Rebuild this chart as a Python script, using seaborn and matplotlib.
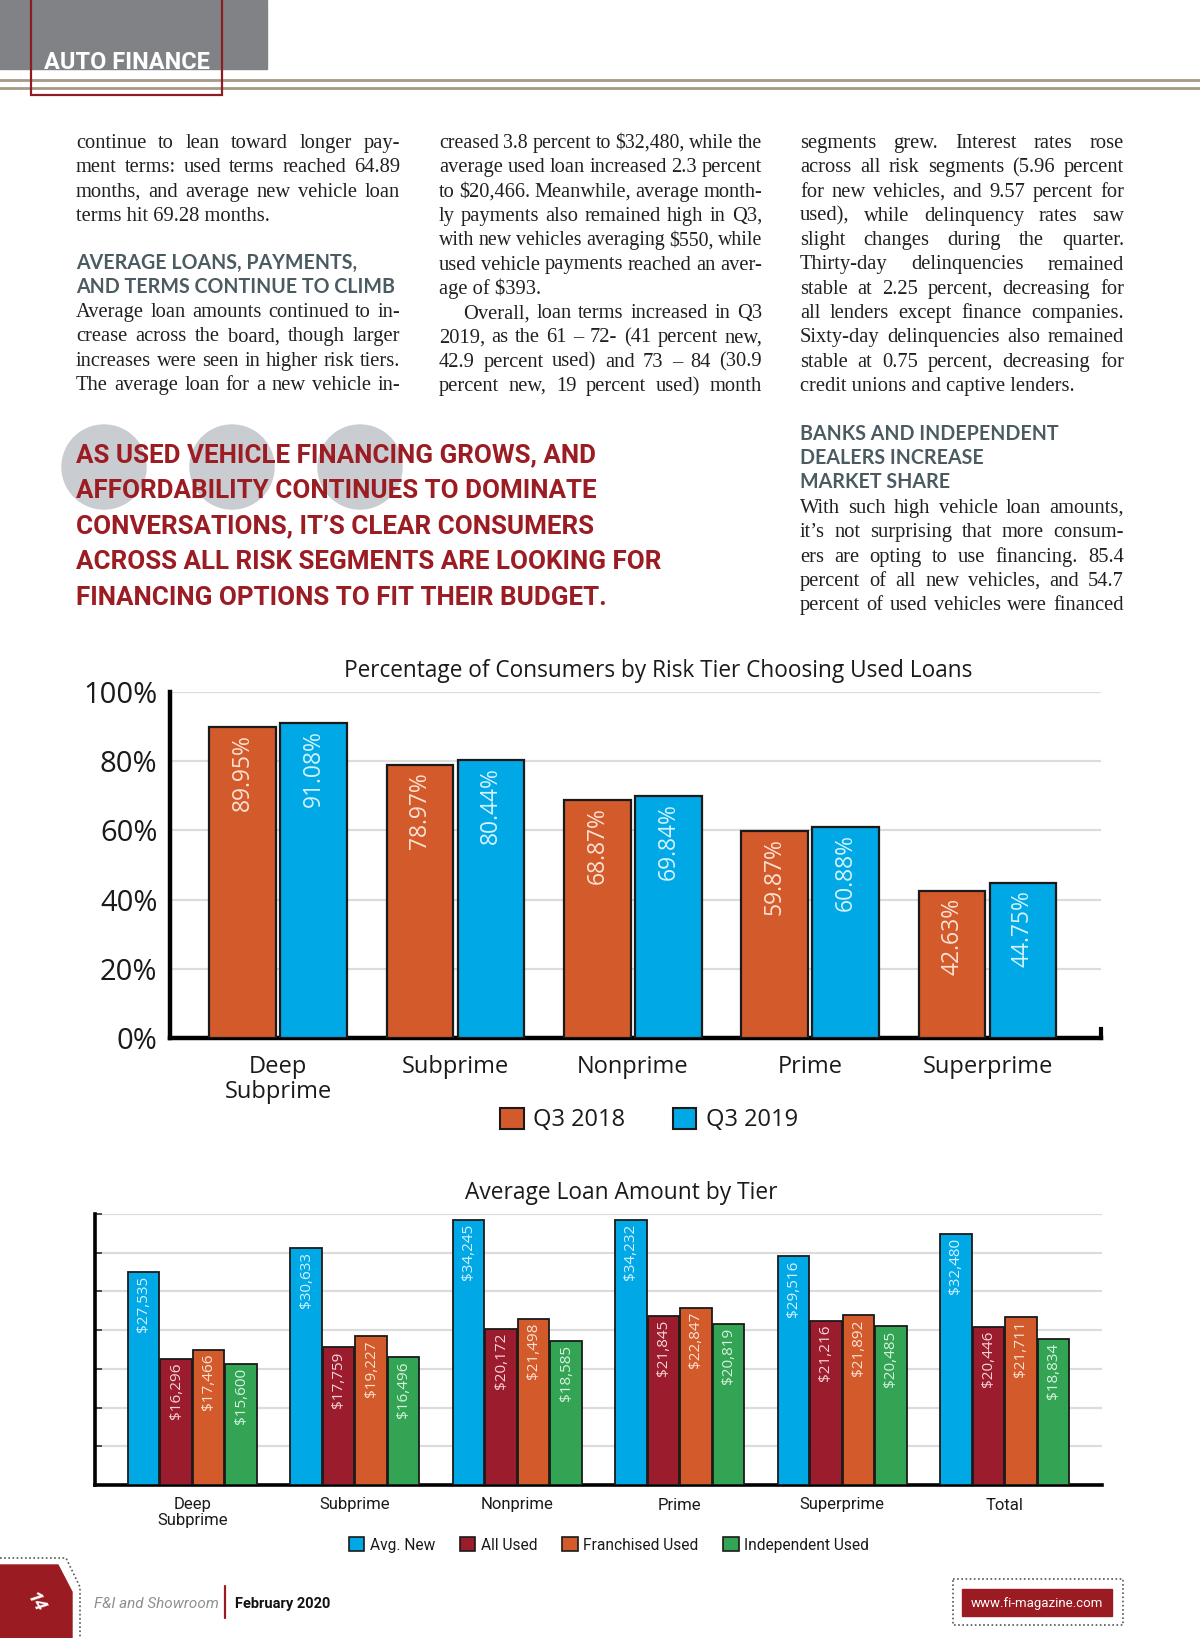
import pandas as pd
import matplotlib
matplotlib.use('Agg')
import matplotlib.pyplot as plt
import seaborn as sns
from matplotlib.patches import Rectangle, Circle, Polygon, Patch

W, H = 1200, 1638

# chart 1: share of consumers choosing used loans
tiers_used = ['Deep\nSubprime', 'Subprime', 'Nonprime', 'Prime', 'Superprime']
q3_2018 = [89.95, 78.97, 68.87, 59.87, 42.63]
q3_2019 = [91.08, 80.44, 69.84, 60.88, 44.75]
pct_ticks = [0, 20, 40, 60, 80, 100]

# chart 2: average loan amount by tier
tiers_loan = ['Deep\nSubprime', 'Subprime', 'Nonprime', 'Prime', 'Superprime', 'Total']
avg_new = [27535, 30633, 34245, 34232, 29516, 32480]
all_used = [16296, 17759, 20172, 21845, 21216, 20446]
franchised_used = [17466, 19227, 21498, 22847, 21892, 21711]
independent_used = [15600, 16496, 18585, 20819, 20485, 18834]
loan_series = ['Avg. New', 'All Used', 'Franchised Used', 'Independent Used']
loan_ticks = [0, 5000, 10000, 15000, 20000, 25000, 30000, 35000]

# page text
col1 = [('continue to lean toward longer pay-', 'j'),
        ('ment terms: used terms reached 64.89', 'j'),
        ('months, and average new vehicle loan', 'j'),
        ('terms hit 69.28 months.', 'l')]
head1 = ['AVERAGE LOANS, PAYMENTS,', 'AND TERMS CONTINUE TO CLIMB']
col1b = [('Average loan amounts continued to in-', 'j'),
         ('crease across the board, though larger', 'j'),
         ('increases were seen in higher risk tiers.', 'j'),
         ('The average loan for a new vehicle in-', 'j')]
col2 = [('creased 3.8 percent to $32,480, while the', 'j'),
        ('average used loan increased 2.3 percent', 'j'),
        ('to $20,466. Meanwhile, average month-', 'j'),
        ('ly payments also remained high in Q3,', 'j'),
        ('with new vehicles averaging $550, while', 'j'),
        ('used vehicle payments reached an aver-', 'j'),
        ('age of $393.', 'l'),
        ('Overall, loan terms increased in Q3', 'i'),
        ('2019, as the 61 – 72- (41 percent new,', 'j'),
        ('42.9 percent used) and 73 – 84 (30.9', 'j'),
        ('percent new, 19 percent used) month', 'j')]
col3 = [('segments grew. Interest rates rose', 'j'),
        ('across all risk segments (5.96 percent', 'j'),
        ('for new vehicles, and 9.57 percent for', 'j'),
        ('used), while delinquency rates saw', 'j'),
        ('slight changes during the quarter.', 'j'),
        ('Thirty-day delinquencies remained', 'j'),
        ('stable at 2.25 percent, decreasing for', 'j'),
        ('all lenders except finance companies.', 'j'),
        ('Sixty-day delinquencies also remained', 'j'),
        ('stable at 0.75 percent, decreasing for', 'j'),
        ('credit unions and captive lenders.', 'l')]
head3 = ['BANKS AND INDEPENDENT', 'DEALERS INCREASE', 'MARKET SHARE']
col3b = [('With such high vehicle loan amounts,', 'j'),
         ('it’s not surprising that more consum-', 'j'),
         ('ers are opting to use financing. 85.4', 'j'),
         ('percent of all new vehicles, and 54.7', 'j'),
         ('percent of used vehicles were financed', 'j')]
quote = ['AS USED VEHICLE FINANCING GROWS, AND',
         'AFFORDABILITY CONTINUES TO DOMINATE',
         'CONVERSATIONS, IT’S CLEAR CONSUMERS',
         'ACROSS ALL RISK SEGMENTS ARE LOOKING FOR',
         'FINANCING OPTIONS TO FIT THEIR BUDGET.']

ORANGE = '#d35a2b'
BLUE = '#00a8e6'
RED = '#9b1c2d'
GREEN = '#33a454'
MAROON = '#9b1b22'
NARROW = ['Liberation Sans Narrow', 'Roboto', 'DejaVu Sans']
SERIF = ['Liberation Serif', 'DejaVu Serif']

sns.set_theme(style='white')
plt.rcParams['font.family'] = ['Open Sans', 'DejaVu Sans']

fig = plt.figure(figsize=(W / 100, H / 100), dpi=100)
bg = fig.add_axes([0, 0, 1, 1])
bg.set_xlim(0, W)
bg.set_ylim(H, 0)
bg.axis('off')
renderer = fig.canvas.get_renderer()


def rect(l, t, r, b):
    return [l / W, 1 - b / H, (r - l) / W, (b - t) / H]


def width(t):
    return t.get_window_extent(renderer).width


def fit(t, target):
    t.set_fontsize(t.get_fontsize() * target / width(t))
    return t.get_fontsize()


body = dict(fontfamily=SERIF, fontsize=14.8, color='#231f20', va='baseline')
LH = 24.3
MIN_GAP = 4.5


def column(lines, x0, x1, y0):
    # justified text, word by word
    for i, (line, mode) in enumerate(lines):
        y = y0 + i * LH
        xs = x0 + (24 if mode == 'i' else 0)
        words = line.split(' ')
        if mode == 'l':
            bg.text(xs, y, line, **body)
            continue
        texts = [bg.text(0, y, w, **body) for w in words]
        ws = [width(t) for t in texts]
        room = x1 - xs - MIN_GAP * (len(words) - 1)
        if sum(ws) > room:
            k = room / sum(ws)
            for t in texts:
                t.set_fontsize(body['fontsize'] * k)
            ws = [width(t) for t in texts]
        gap = (x1 - xs - sum(ws)) / (len(words) - 1)
        x = xs
        for t, w in zip(texts, ws):
            t.set_x(x)
            x += w + gap


# header
bg.add_patch(Rectangle((0, 0), 267, 69, color='#808285', zorder=1))
for y in (80, 88):
    bg.plot([0, W], [y, y], color='#a89888', lw=2, zorder=1)
bg.add_patch(Rectangle((31, -5), 191, 100, fill=False, ec='#8e1c22', lw=1.6, zorder=2))
t = bg.text(44, 69, 'AUTO FINANCE', fontfamily=NARROW, fontweight='bold',
            color='white', fontsize=20, va='baseline', zorder=3)
fit(t, 165)

# article columns
column(col1, 76, 400, 148)
column(col1b, 76, 400, 317)
column(col2, 439, 762, 148)
column(col3, 800, 1124, 148)
column(col3b, 800, 1124, 513)

head = dict(fontfamily=['Lato', 'DejaVu Sans'], fontweight='bold', color='#4b5b62',
            fontsize=14, va='baseline')
t = bg.text(76, 293, head1[1], **head)
head['fontsize'] = fit(t, 321)
bg.text(76, 269, head1[0], **head)
for i, line in enumerate(head3):
    bg.text(800, 440 + i * 24, line, **head)

# pull quote
for cx in (104, 232, 360):
    bg.add_patch(Circle((cx, 467), 42, color='#c9ccd0', zorder=1))
qt = [bg.text(76, 462 + i * 35.7, line, fontfamily=NARROW, fontweight='bold',
              color='#9b1c22', fontsize=20, va='baseline', zorder=3)
      for i, line in enumerate(quote)]
qs = fit(qt[3], 586)
for t in qt:
    t.set_fontsize(qs)

# chart 1
ax1 = fig.add_axes(rect(170, 692, 1101, 1038))
ax1.set_facecolor('none')
df1 = pd.DataFrame({'tier': tiers_used * 2,
                    'pct': q3_2018 + q3_2019,
                    'quarter': ['Q3 2018'] * len(q3_2018) + ['Q3 2019'] * len(q3_2019)})
sns.barplot(data=df1, x='tier', y='pct', hue='quarter', palette=[ORANGE, BLUE],
            saturation=1, width=0.8, gap=0.06, edgecolor='#1a1a1a', linewidth=1.6,
            errorbar=None, legend=False, ax=ax1, zorder=3)
ax1.set_ylim(0, 100)
ax1.set_xlim(-0.61, 4.64)
ax1.set_yticks(pct_ticks)
ax1.set_yticklabels([f'{v}%' for v in pct_ticks])
ax1.yaxis.grid(True, color='#dcdcdc', lw=1.6)
ax1.set_axisbelow(True)
ax1.set_xlabel('')
ax1.set_ylabel('')
ax1.spines['top'].set_visible(False)
ax1.spines['left'].set_color('black')
ax1.spines['left'].set_linewidth(3.2)
ax1.spines['bottom'].set_color('black')
ax1.spines['bottom'].set_linewidth(3.2)
ax1.spines['right'].set_color('black')
ax1.spines['right'].set_linewidth(3)
ax1.spines['right'].set_bounds(0, 2.5)
ax1.tick_params(axis='y', length=0, pad=9, labelsize=21, labelcolor='#1a1a1a')
ax1.tick_params(axis='x', length=0, pad=12, labelsize=17, labelcolor='#1a1a1a')
for lbl in ax1.get_xticklabels():
    lbl.set_linespacing(1.05)
for cont, col in zip(ax1.containers, ['#fbe2d4', '#d4f2ff']):
    for bar in cont:
        h = bar.get_height()
        ax1.annotate(f'{h:.2f}%', (bar.get_x() + bar.get_width() / 2, h),
                     xytext=(0, -7), textcoords='offset pixels', rotation=90,
                     ha='center', va='top', color=col, fontsize=16.5, zorder=4)
t = bg.text(658, 671, 'Percentage of Consumers by Risk Tier Choosing Used Loans',
            ha='center', va='center', fontsize=17, color='#1a1a1a')
fit(t, 630)
fig.legend(handles=[Patch(facecolor=ORANGE, edgecolor='#1a1a1a', lw=1.5, label='Q3 2018'),
                    Patch(facecolor=BLUE, edgecolor='#1a1a1a', lw=1.5, label='Q3 2019')],
           loc='center', bbox_to_anchor=(649 / W, 1 - 1120 / H), ncol=2, frameon=False,
           fontsize=17, handlelength=1.0, handleheight=1.0, handletextpad=0.4,
           columnspacing=2.0, labelcolor='#1a1a1a')

# chart 2
ax2 = fig.add_axes(rect(95, 1214, 1102, 1485))
ax2.set_facecolor('none')
n = len(tiers_loan)
df2 = pd.DataFrame({'tier': tiers_loan * 4,
                    'amount': avg_new + all_used + franchised_used + independent_used,
                    'series': [s for s in loan_series for _ in range(n)]})
sns.barplot(data=df2, x='tier', y='amount', hue='series', palette=[BLUE, RED, ORANGE, GREEN],
            saturation=1, width=0.8, gap=0.03, edgecolor='#1a1a1a', linewidth=1.3,
            errorbar=None, legend=False, ax=ax2, zorder=3)
ax2.set_ylim(0, 35000)
ax2.set_xlim(-0.6, 5.6)
ax2.set_yticks(loan_ticks)
ax2.yaxis.grid(True, color='#dcdcdc', lw=1.6)
ax2.set_axisbelow(True)
ax2.set_xlabel('')
ax2.set_ylabel('')
for s in ('top', 'right'):
    ax2.spines[s].set_visible(False)
for s in ('left', 'bottom'):
    ax2.spines[s].set_color('black')
    ax2.spines[s].set_linewidth(2.6)
ax2.tick_params(axis='y', left=True, direction='in', length=5, width=1.2,
                color='#333333', labelleft=False)
ax2.tick_params(axis='x', length=0, pad=9, labelsize=12, labelcolor='#1a1a1a')
for lbl in ax2.get_xticklabels():
    lbl.set_fontfamily(NARROW)
    lbl.set_linespacing(1.0)
for cont, col in zip(ax2.containers, ['#d4f2ff', '#f4d5d8', '#fbe2d4', '#d9f1df']):
    for bar in cont:
        h = bar.get_height()
        ax2.annotate(f'${h:,.0f}', (bar.get_x() + bar.get_width() / 2, h),
                     xytext=(0, -4), textcoords='offset pixels', rotation=90,
                     ha='center', va='top', color=col, fontsize=11, zorder=4)
t = bg.text(621, 1193, 'Average Loan Amount by Tier', ha='center', va='center',
            fontsize=17, color='#1a1a1a')
fit(t, 313)
fig.legend(handles=[Patch(facecolor=c, edgecolor='#1a1a1a', lw=1.2, label=s)
                    for c, s in zip([BLUE, RED, ORANGE, GREEN], loan_series)],
           loc='center', bbox_to_anchor=(609 / W, 1 - 1545 / H), ncol=4, frameon=False,
           prop={'family': NARROW, 'size': 11.2}, handlelength=1.0, handleheight=1.0,
           handletextpad=0.35, columnspacing=1.6, labelcolor='#1a1a1a')

# footer
bg.add_patch(Polygon([(0, 1565), (58, 1565), (72, 1592), (72, 1638), (0, 1638)],
                     closed=True, color=MAROON, zorder=2))
bg.plot([0, 66, 80, 80], [1558, 1558, 1587, 1638], color='#555555', lw=1.2,
        ls=(0, (1, 1.5)), zorder=2)
bg.text(36, 1602, '14', rotation=-60, color='white', fontsize=13, fontweight='bold',
        fontstyle='italic', ha='center', va='center', zorder=3)
bg.text(94, 1608, 'F&I and Showroom', fontfamily=NARROW, fontstyle='italic',
        color='#8f8f8f', fontsize=11, va='baseline')
bg.plot([225, 225], [1586, 1618], color=MAROON, lw=1.6)
bg.text(235, 1608, 'February 2020', fontfamily=NARROW, fontweight='bold',
        color='#111111', fontsize=10.5, va='baseline')
bg.add_patch(Rectangle((953, 1579), 170, 46, fill=False, ec='#555555', lw=1.2,
                       ls=(0, (1, 1.5))))
bg.add_patch(Rectangle((962, 1589), 150, 27, color=MAROON))
t = bg.text(1037, 1603, 'www.fi-magazine.com', fontfamily=NARROW, color='white',
            fontsize=11, ha='center', va='center')
fit(t, 132)

fig.savefig('out.png', dpi=100)
